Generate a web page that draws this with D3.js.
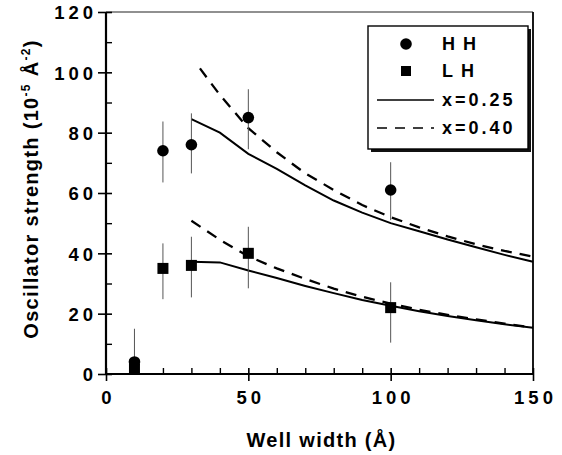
<!DOCTYPE html>
<html>
<head>
<meta charset="utf-8">
<script src="https://cdn.jsdelivr.net/npm/d3@7"></script>
<style>
  body { margin: 0; background: #fff; }
  svg text { font-family: "Liberation Sans", Arial, Helvetica, sans-serif; font-weight: bold; fill: #000; }
</style>
</head>
<body>
<div id="chart"></div>
<script>
// measured points: well width (Å), oscillator strength, error bar low/high
const hhWidth = [10, 20, 30, 50, 100];
const hhValue = [4, 74, 76, 85, 61];
const hhLow = [0, 63.5, 66.5, 74.5, 51];
const hhHigh = [15, 83.7, 86.4, 94.4, 70.2];

const lhWidth = [10, 20, 30, 50, 100];
const lhValue = [1.5, 35, 36, 40, 22];
const lhLow = [0, 24.8, 25.4, 28.4, 10.4];
const lhHigh = [3, 43.3, 45.5, 48.8, 30.4];

// calculated curves
const curveWidth = [30, 40, 50, 60, 70, 80, 90, 100, 110, 120, 130, 140, 150];
const hhSolid = [84.5, 80, 73, 68, 62.5, 57.5, 53.5, 50, 47.3, 44.6, 42, 39.5, 37.2];
const hhDashWidth = [33, 40, 50, 60, 70, 80, 90, 100, 110, 120, 130, 140, 150];
const hhDash = [101.3, 92.5, 81.5, 73.5, 66.5, 61, 56, 52, 48.6, 45.6, 43, 40.8, 38.9];
const lhSolid = [37.2, 37, 34.3, 31.8, 29.2, 26.8, 24.5, 22.6, 20.8, 19.2, 17.8, 16.5, 15.3];
const lhDash = [50.8, 44.5, 39, 35, 31.5, 28.3, 25.6, 23.3, 21.3, 19.6, 18.1, 16.7, 15.4];

const xMajor = [0, 50, 100, 150];
const xMinor = [10, 20, 30, 40, 60, 70, 80, 90, 110, 120, 130, 140];
const yMajor = [0, 20, 40, 60, 80, 100, 120];
const yMinor = [10, 30, 50, 70, 90, 110];

const width = 562, height = 455;
const margin = { top: 12, right: 29, bottom: 81, left: 106 };

const svg = d3.select("#chart").append("svg")
  .attr("width", width).attr("height", height);

const x = d3.scaleLinear().domain([0, 150]).range([margin.left, width - margin.right]);
const y = d3.scaleLinear().domain([0, 120]).range([height - margin.bottom, margin.top]);

// frame
svg.append("line").attr("x1", x(0)).attr("x2", x(150)).attr("y1", y(120)).attr("y2", y(120))
  .attr("stroke", "#222").attr("stroke-width", 1.2);
svg.append("line").attr("x1", x(150)).attr("x2", x(150)).attr("y1", y(120)).attr("y2", y(0))
  .attr("stroke", "#000").attr("stroke-width", 1.8);

// y axis
const yAx = svg.append("g").attr("transform", `translate(${x(0)},0)`)
  .call(d3.axisLeft(y).tickValues(yMajor).tickSize(8).tickPadding(1));
yAx.selectAll(".tick line").attr("x1", 6).attr("stroke-width", 1.6);
yAx.selectAll(".tick text").attr("font-size", 18.5).attr("letter-spacing", 4).attr("dy", "0.36em");
svg.append("g").attr("transform", `translate(${x(0)},0)`)
  .call(d3.axisLeft(y).tickValues(yMinor).tickSize(-6).tickFormat(""))
  .selectAll(".tick line").attr("stroke-width", 1.4);

// x axis
const xAx = svg.append("g").attr("transform", `translate(0,${y(0)})`)
  .call(d3.axisBottom(x).tickValues(xMajor).tickSize(7).tickPadding(10));
xAx.selectAll(".tick line").attr("y1", -6).attr("stroke-width", 1.6);
xAx.selectAll(".tick text").attr("font-size", 18.5).attr("letter-spacing", 4).attr("dx", 2);
svg.append("g").attr("transform", `translate(0,${y(0)})`)
  .call(d3.axisBottom(x).tickValues(xMinor).tickSize(-6).tickFormat(""))
  .selectAll(".tick line").attr("stroke-width", 1.4);

svg.selectAll(".domain").remove();
svg.selectAll("g").attr("font-family", null);

svg.append("line").attr("x1", x(0)).attr("x2", x(0)).attr("y1", y(120)).attr("y2", y(0))
  .attr("stroke", "#000").attr("stroke-width", 2.2);
svg.append("line").attr("x1", x(0)).attr("x2", x(150)).attr("y1", y(0)).attr("y2", y(0))
  .attr("stroke", "#000").attr("stroke-width", 2.2);

// axis titles
svg.append("text")
  .attr("x", (x(0) + x(150)) / 2 + 2).attr("y", 447)
  .attr("text-anchor", "middle").attr("font-size", 20).attr("letter-spacing", 1.3)
  .text("Well width (Å)");

const yt = svg.append("text")
  .attr("transform", `translate(38,${(y(0) + y(120)) / 2 - 4}) rotate(-90)`)
  .attr("text-anchor", "middle").attr("font-size", 20).attr("letter-spacing", 1.3);
yt.append("tspan").text("Oscillator strength (10");
yt.append("tspan").attr("font-size", 12).attr("dy", -8).text("-5");
yt.append("tspan").attr("dy", 8).text(" Å");
yt.append("tspan").attr("font-size", 12).attr("dy", -8).text("-2");
yt.append("tspan").attr("dy", 8).text(")");

// curves
const line = d3.line().x(d => x(d[0])).y(d => y(d[1]));
const curves = [
  [d3.zip(curveWidth, hhSolid), null],
  [d3.zip(hhDashWidth, hhDash), "11,8"],
  [d3.zip(curveWidth, lhSolid), null],
  [d3.zip(curveWidth, lhDash), "11,8"]
];
svg.append("g").selectAll("path")
  .data(curves)
  .join("path")
  .attr("d", d => line(d[0]))
  .attr("fill", "none")
  .attr("stroke", "#000")
  .attr("stroke-width", d => d[1] ? 2.3 : 2)
  .attr("stroke-dasharray", d => d[1]);

// error bars
const bars = d3.zip(hhWidth, hhLow, hhHigh).concat(d3.zip(lhWidth, lhLow, lhHigh));
svg.append("g").selectAll("line")
  .data(bars)
  .join("line")
  .attr("x1", d => x(d[0])).attr("x2", d => x(d[0]))
  .attr("y1", d => y(d[1])).attr("y2", d => y(d[2]))
  .attr("stroke", "#555").attr("stroke-width", 1);

// points
svg.append("g").selectAll("rect")
  .data(d3.zip(lhWidth, lhValue))
  .join("rect")
  .attr("x", d => x(d[0]) - 5.5).attr("y", d => y(d[1]) - 5.5)
  .attr("width", 11).attr("height", 11).attr("fill", "#000");
svg.append("g").selectAll("circle")
  .data(d3.zip(hhWidth, hhValue))
  .join("circle")
  .attr("cx", d => x(d[0])).attr("cy", d => y(d[1]))
  .attr("r", 5.8).attr("fill", "#000");

// legend
const lg = svg.append("g").attr("transform", "translate(368,26)");
lg.append("rect").attr("x", 3).attr("y", 3).attr("width", 160).attr("height", 123).attr("fill", "#111");
lg.append("rect").attr("width", 160).attr("height", 123).attr("fill", "#fff")
  .attr("stroke", "#000").attr("stroke-width", 1.4);
lg.append("circle").attr("cx", 38).attr("cy", 18).attr("r", 5.8).attr("fill", "#000");
lg.append("rect").attr("x", 33).attr("y", 40).attr("width", 10).attr("height", 10).attr("fill", "#000");
lg.append("line").attr("x1", 9).attr("x2", 66).attr("y1", 74).attr("y2", 74)
  .attr("stroke", "#000").attr("stroke-width", 1.4);
lg.append("line").attr("x1", 9).attr("x2", 66).attr("y1", 102).attr("y2", 102)
  .attr("stroke", "#000").attr("stroke-width", 1.6).attr("stroke-dasharray", "10,8");
const lgText = [["HH", 18, 8], ["LH", 45, 8], ["x=0.25", 74, 3], ["x=0.40", 102, 3]];
lg.selectAll("text.lab")
  .data(lgText)
  .join("text")
  .attr("class", "lab")
  .attr("x", 74).attr("y", d => d[1]).attr("dy", "0.36em")
  .attr("font-size", 18).attr("letter-spacing", d => d[2])
  .text(d => d[0]);
</script>
</body>
</html>
